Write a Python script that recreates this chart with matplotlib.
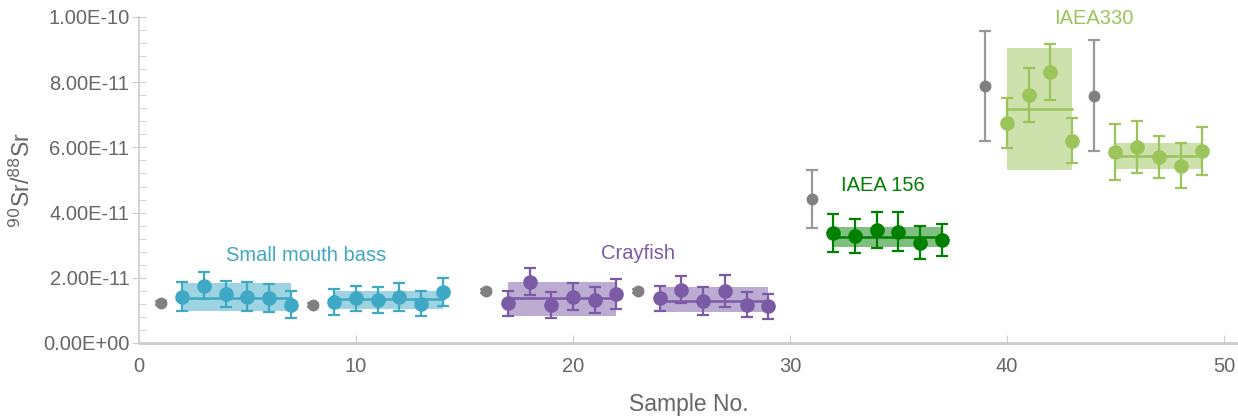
import matplotlib
matplotlib.use("Agg")
import matplotlib.pyplot as plt
from matplotlib.ticker import FuncFormatter, MultipleLocator

plt.rcParams['font.family'] = ['Liberation Sans', 'DejaVu Sans']

E = 1e-11

# ---- data (values in units of 1e-11) ----
gray_x = [1, 8, 16, 23, 31, 39, 44]
gray_y = [1.23, 1.17, 1.60, 1.60, 4.42, 7.89, 7.59]
gray_err = [0.07, 0.06, 0.07, 0.07, 0.88, 1.69, 1.69]

bass_x = [2, 3, 4, 5, 6, 7, 9, 10, 11, 12, 13, 14]
bass_y = [1.42, 1.76, 1.51, 1.42, 1.37, 1.17, 1.25, 1.37, 1.32, 1.42, 1.20, 1.57]
bass_err = [0.45, 0.42, 0.40, 0.45, 0.43, 0.41, 0.40, 0.38, 0.39, 0.43, 0.38, 0.42]

cray_x = [17, 18, 19, 20, 21, 22, 24, 25, 26, 27, 28, 29]
cray_y = [1.22, 1.88, 1.17, 1.42, 1.32, 1.50, 1.37, 1.63, 1.29, 1.60, 1.17, 1.13]
cray_err = [0.38, 0.42, 0.40, 0.41, 0.39, 0.47, 0.38, 0.41, 0.44, 0.49, 0.38, 0.38]

i156_x = [32, 33, 34, 35, 36, 37]
i156_y = [3.38, 3.28, 3.47, 3.42, 3.08, 3.16]
i156_err = [0.59, 0.52, 0.55, 0.61, 0.51, 0.48]

i330_x = [40, 41, 42, 43, 45, 46, 47, 48, 49]
i330_y = [6.76, 7.61, 8.32, 6.21, 5.87, 6.00, 5.70, 5.44, 5.90]
i330_err = [0.77, 0.82, 0.86, 0.70, 0.86, 0.80, 0.64, 0.68, 0.74]

# group bands: start, end, mean, low, high
bass_bands = [(2, 7, 1.39, 0.99, 1.83), (9, 14, 1.34, 1.04, 1.60)]
cray_bands = [(17, 22, 1.37, 0.83, 1.88), (24, 29, 1.30, 0.96, 1.71)]
i156_bands = [(32, 37, 3.24, 2.94, 3.57)]
i330_bands = [(40, 43, 7.18, 5.31, 9.04), (45, 49, 5.75, 5.34, 6.14)]

labels = ["Small mouth bass", "Crayfish", "IAEA 156", "IAEA330"]
label_pos = [(7.7, 2.67), (23.0, 2.76), (34.3, 4.82), (44.0, 9.94)]

C_BASS = "#3fa8c4"
C_CRAY = "#7b5aa6"
C_156 = "#008000"
C_330 = "#9bc45a"
C_GRAY = "#808080"

fig = plt.figure(figsize=(12.38, 4.18), dpi=100)
ax = fig.add_axes([139 / 1238, 75 / 418, 1 - 139 / 1238, 326 / 418])


def draw_group(xs, ys, errs, bands, color):
    for (s, e, m, lo, hi) in bands:
        ax.fill_between([s, e], [lo * E] * 2, [hi * E] * 2, color=color,
                        alpha=0.5, linewidth=0, zorder=1)
        ax.plot([s, e], [m * E] * 2, color=color, lw=1.8, zorder=2)
    ax.errorbar(xs, [v * E for v in ys], yerr=[v * E for v in errs], fmt='o',
                color=color, ms=9.5, elinewidth=1.6, capsize=4.5,
                capthick=1.6, zorder=3)


draw_group(bass_x, bass_y, bass_err, bass_bands, C_BASS)
draw_group(cray_x, cray_y, cray_err, cray_bands, C_CRAY)
draw_group(i156_x, i156_y, i156_err, i156_bands, C_156)
draw_group(i330_x, i330_y, i330_err, i330_bands, C_330)

ax.errorbar(gray_x, [v * E for v in gray_y], yerr=[v * E for v in gray_err],
            fmt='o', color=C_GRAY, ecolor="#999999", ms=7.5, elinewidth=1.6,
            capsize=4.5, capthick=1.6, zorder=3)

label_colors = [C_BASS, C_CRAY, C_156, C_330]
for txt, (lx, ly), c in zip(labels, label_pos, label_colors):
    ax.text(lx, ly * E, txt, color=c, fontsize=14.5, ha='center', va='center')

ax.set_xlim(0, 50.65)
ax.set_ylim(0, 1e-10)
ax.xaxis.set_major_locator(MultipleLocator(10))
ax.yaxis.set_major_locator(MultipleLocator(2e-11))
ax.yaxis.set_minor_locator(MultipleLocator(4e-12))
ax.yaxis.set_major_formatter(FuncFormatter(lambda v, p: f"{v:.2E}"))

for s in ['top', 'right']:
    ax.spines[s].set_visible(False)
ax.spines['left'].set_color("#cccccc")
ax.spines['bottom'].set_color("#cccccc")
ax.spines['bottom'].set_linewidth(2)
ax.spines['left'].set_linewidth(1.2)

ax.tick_params(axis='y', which='major', direction='inout', length=10,
               color="#cccccc", labelcolor="#666666", labelsize=14.5, pad=2)
ax.tick_params(axis='y', which='minor', direction='in', length=5,
               color="#cccccc")
ax.tick_params(axis='x', which='major', direction='in', length=6,
               color="#cccccc", labelcolor="#666666", labelsize=14.5, pad=10)

ax.set_xlabel("Sample No.", fontsize=16.5, color="#666666", labelpad=12)
ax.set_ylabel(r"$^{90}$Sr/$^{88}$Sr", fontsize=16.5, color="#666666")
ax.yaxis.set_label_coords(-0.095, 0.5)
ax.set_facecolor("white")

fig.savefig("out.png", dpi=100)
